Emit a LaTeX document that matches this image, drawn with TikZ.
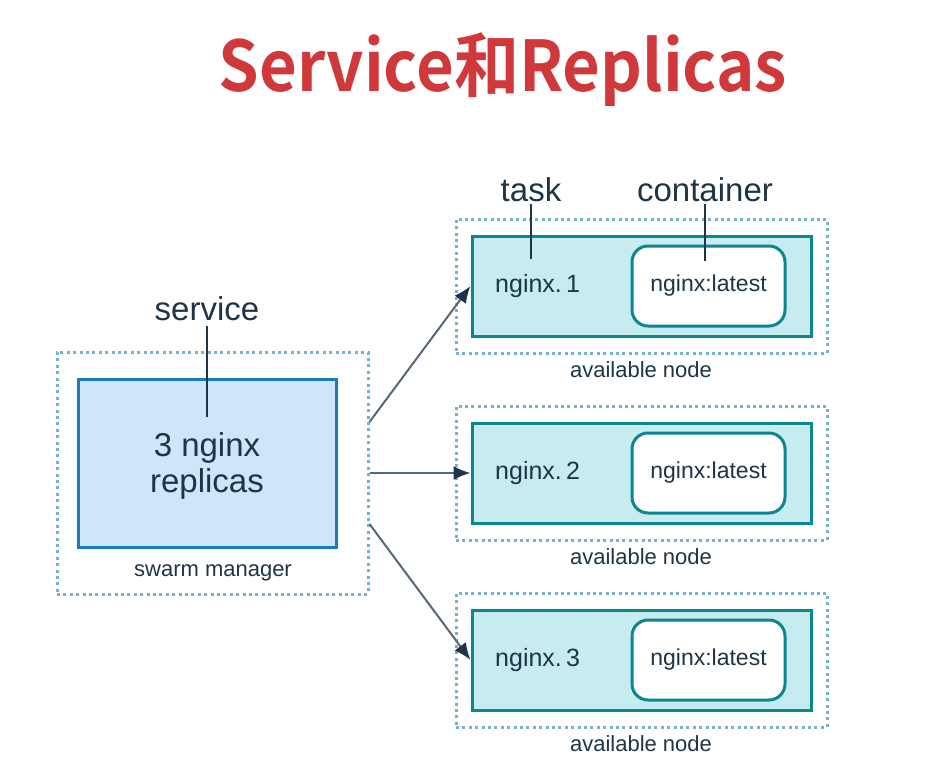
\documentclass[tikz,border=0pt]{standalone}
\usepackage{fontspec}
\setmainfont{Liberation Sans}
\newfontfamily\cjktitle{Noto Sans CJK SC Bold}
\usetikzlibrary{arrows.meta}

\definecolor{navy}{HTML}{1E3448}
\definecolor{titlered}{HTML}{D0393B}
\definecolor{dotblue}{HTML}{74B2CC}
\definecolor{svcfill}{HTML}{CDE7F9}
\definecolor{svcline}{HTML}{1B7BC0}
\definecolor{taskfill}{HTML}{C6ECEF}
\definecolor{taskline}{HTML}{0C8690}
\definecolor{arrowgray}{HTML}{56677A}

\tikzstyle {hostbox} = [draw=dotblue, line width=3pt, dash pattern=on 3pt off 3.4pt]
\tikzstyle {svcbox} = [draw=svcline, fill=svcfill, line width=3pt, minimum width=258pt, minimum height=168pt, align=center, text=navy, font=\fontsize{33}{36}\selectfont]
\tikzstyle {taskbox} = [draw=taskline, fill=taskfill, line width=3pt, minimum width=339pt, minimum height=100pt]
\tikzstyle {ctrbox} = [draw=taskline, fill=white, line width=3pt, rounded corners=16pt, minimum width=153pt, minimum height=80pt, text=navy, font=\fontsize{23}{27}\selectfont]
\tikzstyle {biglabel} = [text=navy, font=\fontsize{33}{38}\selectfont]
\tikzstyle {tasklabel} = [text=navy, font=\fontsize{25}{30}\selectfont]
\tikzstyle {smalllabel} = [text=navy, font=\fontsize{22}{26}\selectfont]
\tikzstyle {conn} = [draw=arrowgray, line width=2pt, -{Latex[length=17pt,width=14pt,color=navy]}]
\tikzstyle {pointer} = [draw=navy, line width=1.5pt]

\begin{document}
\begin{tikzpicture}[x=1pt, y=-1pt]
    \useasboundingbox (0,0) rectangle (951,781);
    \node [text=titlered, font=\cjktitle\fontsize{70}{74}\selectfont] (title) at (503,70) {\scalebox{0.93}[1]{Service和Replicas}};

    % swarm manager
    \node [hostbox, minimum width=311pt, minimum height=242pt] (mgr) at (212.5,473) {};
    \node [svcbox, text depth=0pt] (svc) at (207,463) {3 nginx\\replicas};
    \node [smalllabel] (mgrlbl) at (213,573) {swarm manager};
    \node [biglabel, anchor=base] (svclbl) at (207,320) {service};
    \coordinate (svcend) at (207,417);
    \draw [pointer] ([yshift=-6pt]svclbl.base) -- (svcend);

    % available nodes
    \foreach \i/\y in {1/286, 2/473, 3/660} {
        \node [hostbox, minimum width=371pt, minimum height=134pt] (host\i) at (641.5,\y) {};
        \node [taskbox] (task\i) at (641.5,\y) {};
        \node [ctrbox] (ctr\i) at (708.5,\y) {nginx:latest};
        \node [tasklabel, anchor=west, inner sep=0pt] (name\i) at (495,\y) {nginx.\,\i};
        \node [smalllabel] (hostlbl\i) at (641,{\y+84}) {available node};
    }

    \node [biglabel, anchor=base] (tasklbl) at (531,201) {task};
    \node [biglabel, anchor=base] (ctrlbl) at (705,201) {container};
    \coordinate (taskend) at (531,259);
    \coordinate (ctrend) at (705,261);
    \draw [pointer] ([yshift=-3pt]tasklbl.base) -- (taskend);
    \draw [pointer] ([yshift=-3pt]ctrlbl.base) -- (ctrend);

    \draw [conn] ([yshift=51pt]mgr.east) -- (task1.west);
    \draw [conn] (mgr.east) -- (task2.west);
    \draw [conn] ([yshift=-51pt]mgr.east) -- (task3.west);
\end{tikzpicture}
\end{document}
